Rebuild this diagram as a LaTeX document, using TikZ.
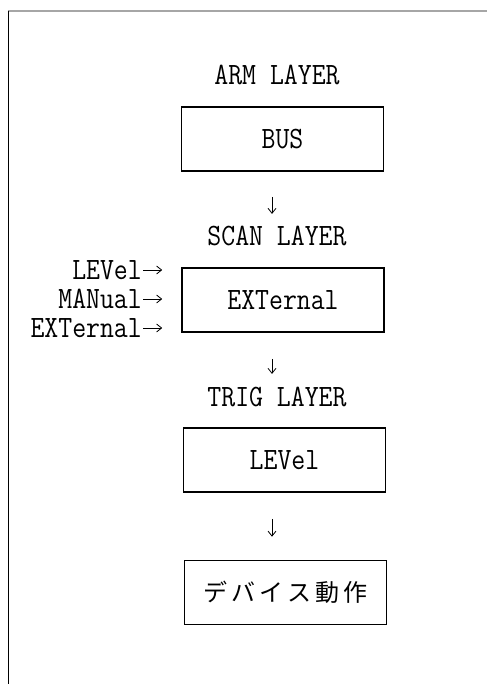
\documentclass[tikz,border=0pt]{standalone}
\usepackage{fontspec}
\usepackage{graphicx}
\newfontfamily\jpfont[LetterSpace=18]{Noto Sans CJK JP}
\usepackage{tikz}
\usetikzlibrary{arrows.meta, positioning, calc}
% tall narrow look of the original typeface
\newcommand{\tallt}[1]{\scalebox{1}[1.15]{#1}}

\begin{document}
\begin{tikzpicture}[x=1pt, y=-1pt,
    lbl/.style={font=\ttfamily\fontsize{27}{30}\selectfont, inner sep=0pt},
    layerbox/.style={draw, line width=1.6pt, minimum width=202pt, minimum height=64pt,
        font=\ttfamily\fontsize{27}{30}\selectfont},
    flowarr/.style={-{Straight Barb[length=5pt, width=8pt]}, line width=0.8pt},
    inarr/.style={-{Straight Barb[length=5pt, width=8pt]}, line width=0.8pt,
        shorten <=1pt, shorten >=19pt}]
    \useasboundingbox (0,0) rectangle (487,684);
    % frame (top and left edges only)
    \draw[gray!70, line width=1.5pt] (8,11) -- (487,11);
    \draw[black, line width=1pt] (8,11) -- (8,684);
    % arm layer
    \node[lbl] (armlbl) at (277,75) {\tallt{ARM LAYER}};
    \node[layerbox] (bus) at (282.5,139) {\tallt{BUS}};
    % scan layer
    \node[lbl] (scanlbl) at (277,236) {\tallt{SCAN LAYER}};
    \node[layerbox] (ext) at (283,300) {\tallt{EXTernal}};
    % scan sources
    \node[lbl, anchor=east] (inlev) at (142,270) {\tallt{LEVel}};
    \node[lbl, anchor=east] (inman) at (142,299) {\tallt{MANual}};
    \node[lbl, anchor=east] (inext) at (142,328) {\tallt{EXTernal}};
    \draw[inarr] (inlev.east) -- (inlev.east -| ext.west);
    \draw[inarr] (inman.east) -- (inman.east -| ext.west);
    \draw[inarr] (inext.east) -- (inext.east -| ext.west);
    % trig layer
    \node[lbl] (trglbl) at (277,397) {\tallt{TRIG LAYER}};
    \node[layerbox] (lev) at (284.5,460) {\tallt{LEVel}};
    % device action
    \node[layerbox, font=\jpfont\fontsize{24}{26}\selectfont] (dev) at (285.5,592.5) {デバイス動作};
    % downward flow between layers
    \draw[flowarr, shorten <=25pt, shorten >=12pt]
        ([xshift=-10.5pt]bus.south) -- ([xshift=-10.5pt]bus.south |- scanlbl.north);
    \draw[flowarr, shorten <=26pt, shorten >=13pt]
        ([xshift=-11pt]ext.south) -- ([xshift=-11pt]ext.south |- trglbl.north);
    \draw[flowarr, shorten <=26pt, shorten >=23pt]
        ([xshift=-12.5pt]lev.south) -- ([xshift=-12.5pt]lev.south |- dev.north);
\end{tikzpicture}
\end{document}
